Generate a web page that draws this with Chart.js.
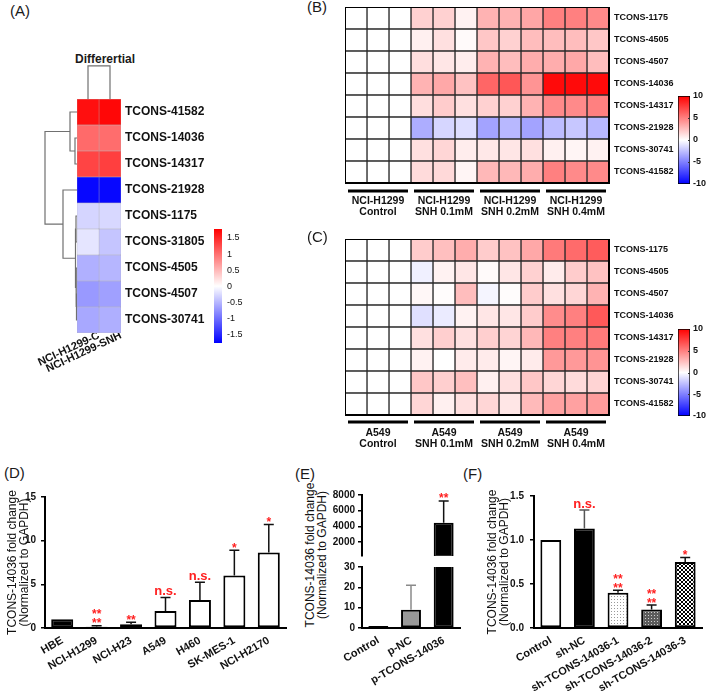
<!DOCTYPE html>
<html>
<head>
<meta charset="utf-8">
<script src="https://cdn.jsdelivr.net/npm/chart.js@4.4.1/dist/chart.umd.min.js"></script>
<style>
body { margin: 0; background: #fff; }
#fig { position: relative; width: 709px; height: 696px; overflow: hidden; font-family: "Liberation Sans", Arial, sans-serif; color: #1a1a1a; }
#fig canvas { position: absolute; }
.txt { position: absolute; white-space: nowrap; }
</style>
</head>
<body>
<div id="fig"></div>
<script>
// ---- (A) differential heatmap ----
const aRows = ["TCONS-41582", "TCONS-14036", "TCONS-14317", "TCONS-21928", "TCONS-1175", "TCONS-31805", "TCONS-4505", "TCONS-4507", "TCONS-30741"];
const aCols = ["NCI-H1299-C", "NCI-H1299-SNH"];
const aValues = [[1.65, 1.7], [1.02, 1.0], [1.28, 1.32], [-1.7, -1.7], [-0.29, -0.27], [-0.18, -0.4], [-0.54, -0.5], [-0.7, -0.65], [-0.6, -0.55]];
// merges: [nodeA, nodeB, height]; leaves are 0..n-1, new nodes numbered from n
const aRowMerges = [[1, 2, 0.2], [0, 9, 0.7], [4, 5, 0.1], [7, 8, 0.05], [6, 12, 0.1], [11, 13, 0.15], [3, 14, 1.4], [10, 15, 3.2]];
const aColMerges = [[0, 1, 1]];
const aScaleTicks = [1.5, 1, 0.5, 0, -0.5, -1, -1.5];

// ---- (B) / (C) heatmaps ----
const bcRows = ["TCONS-1175", "TCONS-4505", "TCONS-4507", "TCONS-14036", "TCONS-14317", "TCONS-21928", "TCONS-30741", "TCONS-41582"];
const bGroups = [["NCI-H1299", "Control"], ["NCI-H1299", "SNH 0.1mM"], ["NCI-H1299", "SNH 0.2mM"], ["NCI-H1299", "SNH 0.4mM"]];
const cGroups = [["A549", "Control"], ["A549", "SNH 0.1mM"], ["A549", "SNH 0.2mM"], ["A549", "SNH 0.4mM"]];
const bValues = [
  [0, 0, 0, 1.8, 1.8, 0.5, 3.0, 3.0, 3.5, 5.0, 5.0, 4.6],
  [0, 0, 0, 0.6, 1.2, 0.2, 2.2, 1.8, 2.6, 2.6, 2.6, 2.2],
  [0, 0, 0, 1.3, 1.0, 0.7, 3.0, 2.6, 3.2, 3.2, 3.4, 2.6],
  [0, 0, 0, 3.0, 3.4, 2.4, 6.0, 6.6, 4.2, 9.6, 9.6, 9.6],
  [0, 0, 0, 1.3, 2.0, 1.2, 1.8, 1.8, 3.0, 4.6, 4.6, 5.0],
  [0, 0, 0, -3.2, -1.6, -1.3, -3.6, -2.8, -3.6, -2.6, -2.2, -2.8],
  [0, 0, 0, 1.2, 1.6, 0.7, 0.9, 1.0, 1.2, 0.6, 0.4, 0.5],
  [0, 0, 0, 1.4, 1.5, 0.4, 2.8, 2.8, 3.2, 5.0, 4.6, 4.6]
];
const cValues = [
  [0, 0, 0, 2.0, 2.5, 3.2, 2.0, 2.4, 3.4, 5.2, 5.8, 6.4],
  [0, 0, 0, -0.6, 0.5, 1.0, 0.2, 1.0, 1.8, 0.8, 2.0, 2.4],
  [0, 0, 0, 0.3, 0.1, 2.6, -0.4, 0.1, 2.0, 1.2, 1.6, 3.0],
  [0, 0, 0, -1.2, -0.8, 0.5, 1.0, 1.0, 2.0, 4.5, 5.0, 6.5],
  [0, 0, 0, 1.2, 1.9, 1.2, 1.9, 1.7, 2.8, 5.0, 5.0, 5.2],
  [0, 0, 0, 0.5, 0.0, 0.8, 0.8, 0.4, 0.8, 4.0, 4.0, 4.2],
  [0, 0, 0, 2.2, 1.9, 2.5, 0.6, 1.2, 2.2, 1.6, 1.4, 1.7],
  [0, 0, 0, 1.6, 0.6, 1.2, 1.6, 1.0, 2.7, 3.7, 3.7, 3.9]
];
const bcScaleTicks = [10, 5, 0, -5, -10];

// ---- (D) ----
const dLabels = ["HBE", "NCI-H1299", "NCI-H23", "A549", "H460", "SK-MES-1", "NCI-H2170"];
const dMeans = [1.0, 0.15, 0.42, 1.95, 3.2, 6.0, 8.65];
const dErrors = [0, 0.1, 0.23, 1.55, 2.05, 2.9, 3.2];
const dSig = [null, ["**", "**"], ["**"], ["n.s."], ["n.s."], ["*"], ["*"]];
const dTicks = [0, 5, 10, 15];

// ---- (E) ----
const eLabels = ["Control", "p-NC", "p-TCONS-14036"];
const eMeans = [1, 9, 4470];
const eErrors = [0, 12, 2770];
const eSig = [null, null, ["**"]];
const eTopTicks = [2000, 4000, 6000, 8000];
const eLowTicks = [0, 10, 20, 30];

// ---- (F) ----
const fLabels = ["Control", "sh-NC", "sh-TCONS-14036-1", "sh-TCONS-14036-2", "sh-TCONS-14036-3"];
const fMeans = [1.0, 1.13, 0.4, 0.21, 0.75];
const fErrors = [0, 0.21, 0.03, 0.05, 0.05];
const fSig = [null, ["n.s."], ["**", "**"], ["**", "**"], ["*"]];
const fTicks = [0, 0.5, 1, 1.5];

const yTitle = ["TCONS-14036 fold change", "(Normalized to GAPDH)"];

Chart.defaults.font.family = '"Liberation Sans", Arial, sans-serif';
Chart.defaults.color = "#1a1a1a";
Chart.defaults.animation = false;
Chart.defaults.responsive = false;
Chart.defaults.plugins.legend.display = false;
Chart.defaults.plugins.tooltip.enabled = false;

const fig = document.getElementById("fig");

function mk(x, y, w, h) {
  const c = document.createElement("canvas");
  c.width = w; c.height = h;
  c.style.left = x + "px"; c.style.top = y + "px";
  c.style.width = w + "px"; c.style.height = h + "px";
  fig.appendChild(c);
  return c;
}

function text(str, x, y, css) {
  const d = document.createElement("div");
  d.className = "txt";
  d.style.left = x + "px"; d.style.top = y + "px";
  d.style.cssText += css || "";
  d.innerHTML = str;
  fig.appendChild(d);
  return d;
}

function fixW(w) {
  return s => { s.width = w; s.paddingLeft = s.paddingRight = s.paddingTop = s.paddingBottom = 0; };
}
function fixH(h) {
  return s => { s.height = h; s.paddingLeft = s.paddingRight = s.paddingTop = s.paddingBottom = 0; };
}

function heat(v, vmax) {
  const t = Math.min(Math.abs(v) / vmax, 1);
  const c = Math.round(255 * (1 - t));
  return v >= 0 ? `rgb(255,${c},${c})` : `rgb(${c},${c},255)`;
}

// black box round the heatmap
const framePlugin = {
  id: "frame",
  afterDatasetsDraw(chart, args, o) {
    const a = chart.chartArea, ctx = chart.ctx;
    ctx.save();
    ctx.strokeStyle = "#000";
    ctx.lineWidth = o.width;
    ctx.strokeRect(a.left, a.top, a.width, a.height);
    ctx.restore();
  }
};

// thick group bars under the heatmap columns
const groupPlugin = {
  id: "groups",
  afterDraw(chart, args, o) {
    const x = chart.scales.x, y = chart.chartArea.bottom + o.offset, ctx = chart.ctx;
    ctx.save();
    ctx.strokeStyle = "#000";
    ctx.lineWidth = 3;
    for (let g = 0; g < o.count; g++) {
      ctx.beginPath();
      ctx.moveTo(x.getPixelForValue(g * o.size) + o.inset, y);
      ctx.lineTo(x.getPixelForValue((g + 1) * o.size) - o.inset, y);
      ctx.stroke();
    }
    ctx.restore();
  }
};

// small marks on the right edge of a colour bar
const barTickPlugin = {
  id: "barTicks",
  afterDatasetsDraw(chart, args, o) {
    const a = chart.chartArea, y = chart.scales.y, ctx = chart.ctx;
    ctx.save();
    ctx.strokeStyle = "#333";
    ctx.lineWidth = 1;
    o.values.forEach(v => {
      const p = Math.round(y.getPixelForValue(v)) + 0.5;
      ctx.beginPath();
      ctx.moveTo(a.right - 2, p);
      ctx.lineTo(a.right, p);
      ctx.stroke();
    });
    ctx.restore();
  }
};

// error bars (upper only) + significance marks
const errPlugin = {
  id: "err",
  afterDatasetsDraw(chart, args, o) {
    const ctx = chart.ctx, y = chart.scales.y;
    const meta = chart.getDatasetMeta(0), vals = chart.data.datasets[0].data;
    ctx.save();
    meta.data.forEach((bar, i) => {
      const e = o.errors[i] || 0;
      const hi = vals[i] + e;
      if (hi > y.max || hi < y.min) return;
      const top = y.getPixelForValue(hi);
      if (e) {
        ctx.strokeStyle = o.colors ? o.colors[i] : "#111";
        ctx.lineWidth = 1.5;
        ctx.beginPath();
        ctx.moveTo(bar.x, y.getPixelForValue(vals[i]));
        ctx.lineTo(bar.x, top);
        ctx.moveTo(bar.x - o.cap, top);
        ctx.lineTo(bar.x + o.cap, top);
        ctx.stroke();
      }
      const s = o.sig && o.sig[i];
      if (s) {
        ctx.fillStyle = "#ff1f1f";
        ctx.textAlign = "center";
        ctx.textBaseline = "alphabetic";
        s.forEach((t, k) => {
          const star = t.indexOf("*") >= 0;
          ctx.font = star ? 'bold 12px "Liberation Sans"' : 'bold 13px "Liberation Sans"';
          const base = top + (star ? 1.5 : -2) - (s.length - 1 - k) * 9;
          ctx.fillText(t, bar.x, base);
        });
      }
    });
    ctx.restore();
  }
};

function heatmap(canvas, o) {
  const nCol = o.values[0].length;
  const datasets = [];
  for (let c = 0; c < nCol; c++) {
    datasets.push({
      data: o.rows.map(() => 1),
      backgroundColor: o.values.map(r => heat(r[c], o.vmax)),
      borderColor: o.line,
      borderWidth: o.lineW,
      borderSkipped: false,
      barPercentage: 1,
      categoryPercentage: 1
    });
  }
  return new Chart(canvas, {
    type: "bar",
    data: { labels: o.rows, datasets },
    options: {
      indexAxis: "y",
      layout: { padding: o.pad },
      plugins: { frame: o.frame, groups: o.groups },
      scales: {
        x: {
          type: "linear", stacked: true, min: 0, max: nCol,
          afterBuildTicks: s => { s.ticks = o.xTicks.map(v => ({ value: v })); },
          ticks: { autoSkip: false, minRotation: o.rot, maxRotation: o.rot, padding: o.xPad, font: o.xFont, color: "#111", callback: (v, i) => o.xLabels[i] },
          grid: { display: false, drawTicks: false },
          border: { display: false },
          afterFit: fixH(o.xh)
        },
        y: {
          position: "right", stacked: true,
          grid: { display: false, drawTicks: false },
          border: { display: false },
          ticks: { autoSkip: false, padding: o.yPad, font: o.yFont, color: "#111" },
          afterFit: fixW(o.yw)
        }
      }
    },
    plugins: [framePlugin, groupPlugin]
  });
}

function colorbar(canvas, o) {
  return new Chart(canvas, {
    type: "bar",
    data: {
      labels: [""],
      datasets: [{
        data: [[o.min, o.max]],
        backgroundColor: c => {
          const ch = c.chart, a = ch.chartArea;
          if (!a) return "#fff";
          const g = ch.ctx.createLinearGradient(0, a.top, 0, a.bottom);
          const z = (ch.scales.y.getPixelForValue(0) - a.top) / a.height;
          g.addColorStop(0, "#ff0000");
          g.addColorStop(z, "#ffffff");
          g.addColorStop(1, "#0000ff");
          return g;
        },
        borderColor: "#000",
        borderWidth: o.border,
        borderSkipped: false,
        barPercentage: 1,
        categoryPercentage: 1
      }]
    },
    options: {
      layout: { padding: o.pad },
      plugins: { barTicks: o.marks ? { values: o.marks } : false },
      scales: {
        x: { display: false },
        y: {
          position: "right", min: o.min, max: o.max,
          afterBuildTicks: s => { s.ticks = o.ticks.map(v => ({ value: v })); },
          ticks: { padding: o.tickPad, font: o.font, color: "#111", callback: v => String(v) },
          grid: { display: false, drawTicks: false },
          border: { display: false },
          afterFit: fixW(o.yw)
        }
      }
    },
    plugins: [barTickPlugin]
  });
}

// one U-shaped link per merge; toXY maps (height, leaf position) to a point
function treeLinks(leaves, merges, toXY, xID, yID) {
  const pos = [], hgt = [];
  for (let i = 0; i < leaves; i++) { pos.push(i + 0.5); hgt.push(0); }
  return merges.map(([a, b, h]) => {
    pos.push((pos[a] + pos[b]) / 2);
    hgt.push(h);
    const pts = [[hgt[a], pos[a]], [h, pos[a]], [h, pos[b]], [hgt[b], pos[b]]];
    return {
      data: pts.map(([d, p]) => toXY(d, p)),
      xAxisID: xID, yAxisID: yID,
      showLine: true, borderColor: "#707070", borderWidth: 1.2, pointRadius: 0, clip: false
    };
  });
}

function bars(canvas, o) {
  const show = o.showX !== false;
  return new Chart(canvas, {
    type: "bar",
    data: {
      labels: o.labels,
      datasets: [{
        data: o.values, backgroundColor: o.fills, borderColor: "#000", borderWidth: 2,
        borderSkipped: false, barPercentage: o.barPct, categoryPercentage: 1, clip: 0
      }]
    },
    options: {
      layout: { padding: o.pad },
      plugins: { err: { errors: o.errors, sig: o.sig, colors: o.errColors, cap: 5 } },
      scales: {
        x: show ? {
          grid: { display: false, drawTicks: false },
          border: { display: true, color: "#000", width: 2 },
          ticks: { autoSkip: false, minRotation: 30, maxRotation: 30, padding: 6, font: { size: 11, weight: "bold" }, color: "#111" },
          afterFit: fixH(o.xh)
        } : { display: false },
        y: {
          min: o.min, max: o.max,
          afterBuildTicks: s => { s.ticks = o.ticks.map(v => ({ value: v })); },
          ticks: { padding: o.tickPad, font: { size: 10, weight: "bold" }, callback: o.fmt, color: "#111" },
          grid: { display: true, drawOnChartArea: false, drawTicks: true, tickLength: 4, color: "#000", lineWidth: 1.5 },
          border: { display: true, color: "#000", width: 2 },
          title: o.title
            ? { display: true, text: o.title, color: "#111", font: { size: 12, lineHeight: 1 }, padding: { top: o.titlePad, bottom: 0 } }
            : { display: false },
          afterFit: fixW(o.yw)
        }
      }
    },
    plugins: [errPlugin]
  });
}

// ---------- panel A ----------
text("(A)", 10, 3, "font-size:15px;line-height:15px;");
text("Differertial", 75, 53, "font-size:12px;font-weight:bold;line-height:12px;");
// both trees share one canvas (x 25..121, y 60..333); row tree on x/y, column tree on x2/y2
const rowLinks = treeLinks(9, aRowMerges, (d, p) => ({ x: d, y: p }), "x", "y");
const colLinks = treeLinks(2, aColMerges, (d, p) => ({ x: p, y: d }), "x2", "y2");
new Chart(mk(25, 60, 96, 273), {
  type: "scatter",
  data: { datasets: rowLinks.concat(colLinks) },
  options: {
    layout: { padding: 0, autoPadding: false },
    scales: {
      x: { type: "linear", axis: "x", display: false, min: -4.4, max: 5.2, reverse: true },
      y: { type: "linear", axis: "y", display: false, min: -1.5, max: 9, reverse: true },
      x2: { type: "linear", axis: "x", display: false, min: -2.364, max: 2 },
      y2: { type: "linear", axis: "y", display: false, min: -7.09, max: 1.18 }
    }
  }
});
heatmap(mk(0, 99, 260, 290), {
  rows: aRows, values: aValues, vmax: 1.75, line: "#a8a8a8", lineW: 0.5,
  pad: { left: 77, right: 0, top: 0, bottom: 0 }, yw: 139, xh: 56,
  xTicks: [1, 2], xLabels: aCols, rot: 25, xPad: -4,
  xFont: { size: 11, weight: "bold" }, yFont: { size: 12, weight: "bold" }, yPad: 4,
  frame: false, groups: false
});
colorbar(mk(214, 225, 40, 125), {
  min: -1.77, max: 1.78, ticks: aScaleTicks, border: 0, pad: { top: 4, bottom: 7, left: 0, right: 0 },
  yw: 32, tickPad: 5, font: { size: 9 }
});

// ---------- panels B, C ----------
text("(B)", 307, -1, "font-size:15px;line-height:15px;");
text("(C)", 307, 229, "font-size:15px;line-height:15px;");
const bcCommon = {
  rows: bcRows, vmax: 10, line: "#2a2a2a", lineW: 1,
  pad: { left: 0, right: 0, top: 0, bottom: 0 }, yw: 100, xh: 44,
  xTicks: [1.5, 4.5, 7.5, 10.5], rot: 0, xPad: 12,
  xFont: { size: 10.5, weight: "bold", lineHeight: 1.1 }, yFont: { size: 9, weight: "bold" }, yPad: 5,
  frame: { width: 2 }
};
heatmap(mk(345, 7, 364, 220), Object.assign({}, bcCommon, {
  values: bValues, xLabels: bGroups, groups: { count: 4, size: 3, offset: 8, inset: 3 }
}));
heatmap(mk(345, 239, 364, 220), Object.assign({}, bcCommon, {
  values: cValues, xLabels: cGroups, groups: { count: 4, size: 3, offset: 7, inset: 3 }
}));
colorbar(mk(678, 90, 31, 100), {
  min: -10, max: 10, ticks: bcScaleTicks, marks: [5, 0, -5], border: 1, pad: { top: 6, bottom: 6, left: 0, right: 0 },
  yw: 19, tickPad: 3, font: { size: 9, weight: "bold" }
});
colorbar(mk(678, 323, 31, 100), {
  min: -10, max: 10, ticks: bcScaleTicks, marks: [5, 0, -5], border: 1, pad: { top: 6, bottom: 7, left: 0, right: 0 },
  yw: 19, tickPad: 3, font: { size: 9, weight: "bold" }
});

// ---------- panel D ----------
text("(D)", 4, 465, "font-size:15px;line-height:15px;");
bars(mk(0, 485, 292, 211), {
  labels: dLabels, values: dMeans, errors: dErrors, sig: dSig,
  fills: ["#000", "#fff", "#fff", "#fff", "#fff", "#fff", "#fff"],
  pad: { top: 12, right: 6, left: 0, bottom: 0 }, yw: 45, xh: 68, barPct: 0.64,
  min: 0, max: 15, ticks: dTicks, tickPad: 5, fmt: v => String(v),
  title: yTitle, titlePad: 7
});

// ---------- panel E ----------
text("(E)", 295, 466, "font-size:15px;line-height:15px;");
text(yTitle.join("<br>"), 236, 543, "width:160px;height:24px;font-size:12px;line-height:12px;text-align:center;color:#111;transform:rotate(-90deg);");
bars(mk(300, 485, 165, 73), {
  labels: eLabels, values: eMeans, errors: eErrors, sig: eSig, showX: false,
  fills: ["#fff", "#999", "#000"], errColors: ["#111", "#8a8a8a", "#111"],
  pad: { top: 10, right: 5, left: 0, bottom: 2 }, yw: 62, barPct: 0.61,
  min: 210, max: 8000, ticks: eTopTicks, tickPad: 3, fmt: v => String(v)
});
bars(mk(300, 562, 165, 134), {
  labels: eLabels, values: eMeans, errors: eErrors, sig: null,
  fills: ["#fff", "#999", "#000"], errColors: ["#111", "#8a8a8a", "#111"],
  pad: { top: 5, right: 5, left: 0, bottom: 0 }, yw: 62, xh: 68, barPct: 0.61,
  min: 0, max: 30, ticks: eLowTicks, tickPad: 3, fmt: v => String(v)
});

// ---------- panel F ----------
text("(F)", 463, 466, "font-size:15px;line-height:15px;");
const fCanvas = mk(455, 485, 254, 211);
function pattern(size, bg, fg, cells) {
  const c = document.createElement("canvas");
  c.width = c.height = size;
  const g = c.getContext("2d");
  g.fillStyle = bg; g.fillRect(0, 0, size, size);
  g.fillStyle = fg;
  cells.forEach(([x, y, w, h]) => g.fillRect(x, y, w, h));
  return fCanvas.getContext("2d").createPattern(c, "repeat");
}
const dotsLight = pattern(3, "#ffffff", "#9a9a9a", [[0, 0, 1, 1]]);
const dotsDark = pattern(3, "#5c5c5c", "#cfcfcf", [[1, 1, 1, 1]]);
const checks = pattern(4, "#000000", "#ffffff", [[0, 0, 2, 2], [2, 2, 2, 2]]);
bars(fCanvas, {
  labels: fLabels, values: fMeans, errors: fErrors, sig: fSig,
  fills: ["#fff", "#000", dotsLight, dotsDark, checks],
  errColors: ["#111", "#555", "#111", "#111", "#111"],
  pad: { top: 11, right: 7, left: 0, bottom: 0 }, yw: 79, xh: 68, barPct: 0.62,
  min: 0, max: 1.5, ticks: fTicks, tickPad: 6, fmt: v => v.toFixed(1),
  title: yTitle, titlePad: 32
});
</script>
</body>
</html>
